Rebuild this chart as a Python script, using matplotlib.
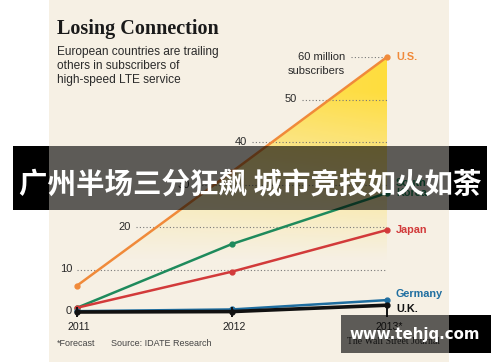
import numpy as np
import matplotlib
matplotlib.use("Agg")
import matplotlib.pyplot as plt
from matplotlib.patches import Rectangle, Polygon

years = [2011, 2012, 2013]
us = [6.2, 33.0, 60.0]
korea = [1.0, 16.0, 28.0]
japan = [1.0, 9.5, 19.3]
germany = [0.2, 0.6, 2.8]
uk = [0.0, 0.1, 1.6]
xtick_labels = ["2011", "2012", "2013*"]
grid_vals = [10, 20, 30, 40, 50, 60]
grid_start = [2011.0, 2011.38, 2011.76, 2012.13, 2012.45, 2012.77]

W, H = 500, 362
fig = plt.figure(figsize=(5, 3.62), dpi=100)
fig.patch.set_facecolor("white")

SANS = ["Liberation Sans", "DejaVu Sans"]
BEIGE = "#f6f0e4"

# background axes in pixel coords
bg = fig.add_axes([0, 0, 1, 1], zorder=0)
bg.set_xlim(0, W); bg.set_ylim(H, 0); bg.axis("off")
bg.add_patch(Rectangle((49, 0), 400, H, color=BEIGE, lw=0))
bg.text(57, 29, "Losing Connection", family=["Liberation Serif", "DejaVu Serif"],
        weight="bold", fontsize=14.5, color="#1a1a1a", va="center", ha="left")
for i, line in enumerate(["European countries are trailing", "others in subscribers of",
                          "high-speed LTE service"]):
    bg.text(57, 52 + i * 14, line, family=SANS, fontsize=8.6, color="#2a2a2a",
            va="center", ha="left")
bg.text(57, 343, "*Forecast", family=SANS, fontsize=6.5, color="#444444", va="center")
bg.text(111, 343, "Source: IDATE Research", family=SANS, fontsize=6.5, color="#444444", va="center")
bg.text(440, 342, "The Wall Street Journal", family=["Liberation Serif", "DejaVu Serif"],
        fontsize=7, color="#333333", va="center", ha="right")

# data axes
ax = fig.add_axes([77 / W, (H - 312) / H, (387 - 77) / W, (312 - 57) / H], zorder=1)
ax.set_xlim(2011, 2013); ax.set_ylim(0, 60)
ax.patch.set_alpha(0)
for s in ax.spines.values():
    s.set_visible(False)
ax.set_xticks([]); ax.set_yticks([])

# gradient fill under U.S. line
ny = 200
yy = np.linspace(0, 60, ny)[:, None]
xx = np.linspace(0, 1, 100)[None, :]
alpha = np.clip((yy - 12) / 40, 0, 1) ** 1.1 * (0.6 + 0.4 * xx)
img = np.zeros((ny, 100, 4))
img[..., 0] = 1.0
img[..., 1] = 0.87
img[..., 2] = 0.24
img[..., 3] = np.clip(alpha, 0, 1)
im = ax.imshow(img, extent=[2011, 2013, 0, 60], origin="lower", aspect="auto", zorder=1)
poly = Polygon(list(zip(years, us)) + [(2013, 0), (2011, 0)], closed=True,
               transform=ax.transData, facecolor="none", edgecolor="none")
ax.add_patch(poly)
im.set_clip_path(poly)

# grid lines and labels
for v, xs in zip(grid_vals, grid_start):
    ax.plot([xs, 2013], [v, v], linestyle=(0, (1, 2)), color="#777777", lw=0.8, zorder=2)
    if v == 60:
        ax.annotate("60 million", (xs, v), xytext=(-6, 0), textcoords="offset pixels",
                    ha="right", va="center", family=SANS, fontsize=8, color="#2a2a2a")
        ax.annotate("subscribers", (xs, v), xytext=(-6, -14), textcoords="offset pixels",
                    ha="right", va="center", family=SANS, fontsize=8, color="#2a2a2a")
    else:
        ax.annotate(str(v), (xs, v), xytext=(-5, 0), textcoords="offset pixels",
                    ha="right", va="center", family=SANS, fontsize=8, color="#2a2a2a")
ax.annotate("0", (2011, 0), xytext=(-5, 1), textcoords="offset pixels",
            ha="right", va="center", family=SANS, fontsize=8, color="#2a2a2a")

series = [
    (us, "#f08a3a", "U.S.", 1.8),
    (korea, "#1e8a5c", "South\nKorea", 1.8),
    (japan, "#d23a3a", "Japan", 1.8),
    (germany, "#1f6ea0", "Germany", 1.8),
    (uk, "#111111", "U.K.", 2.6),
]
label_offsets = {"U.S.": 0, "South\nKorea": 5, "Japan": 0, "Germany": 6, "U.K.": -4}
for vals, col, name, lw in series:
    ax.plot(years, vals, color=col, lw=lw, marker="o", ms=3.5, zorder=4, clip_on=False,
            solid_capstyle="round")
    ax.annotate(name, (2013, vals[-1]), xytext=(9, label_offsets[name]),
                textcoords="offset pixels", ha="left", va="center",
                family=SANS, weight="bold", fontsize=7.8, color=col,
                linespacing=0.95)

# x ticks
for yr, lab in zip(years, xtick_labels):
    ax.plot([yr, yr], [0, 0], marker="|", ms=7, mew=1.2, color="#111111",
            clip_on=False, zorder=5)
    ax.annotate(lab, (yr, 0), xytext=(2, -15), textcoords="offset pixels",
                ha="center", va="center", family=SANS, fontsize=7.6, color="#222222")

# overlay axes for banner and watermark
ov = fig.add_axes([0, 0, 1, 1], zorder=3)
ov.set_xlim(0, W); ov.set_ylim(H, 0); ov.axis("off"); ov.patch.set_alpha(0)
ov.add_patch(Rectangle((13, 146), 36, 64, color="black", lw=0))
ov.add_patch(Rectangle((449, 146), 38, 64, color="black", lw=0))
ov.add_patch(Rectangle((49, 146), 400, 64, color="black", alpha=0.62, lw=0))
ov.text(250, 186, "广州半场三分狂飙 城市竞技如火如荼",
        family=["Noto Sans CJK SC", "DejaVu Sans"], weight="bold", fontsize=20.5,
        color="white", ha="center", va="center")
ov.add_patch(Rectangle((449, 315), 42, 38, color="black", lw=0))
ov.add_patch(Rectangle((341, 315), 108, 38, color="black", alpha=0.62, lw=0))
ov.text(415, 334, "www.tehjq.com", family=["DejaVu Sans"], weight="bold", fontsize=10.8,
        color="white", ha="center", va="center")

fig.savefig("out.png", dpi=100, facecolor="white")
